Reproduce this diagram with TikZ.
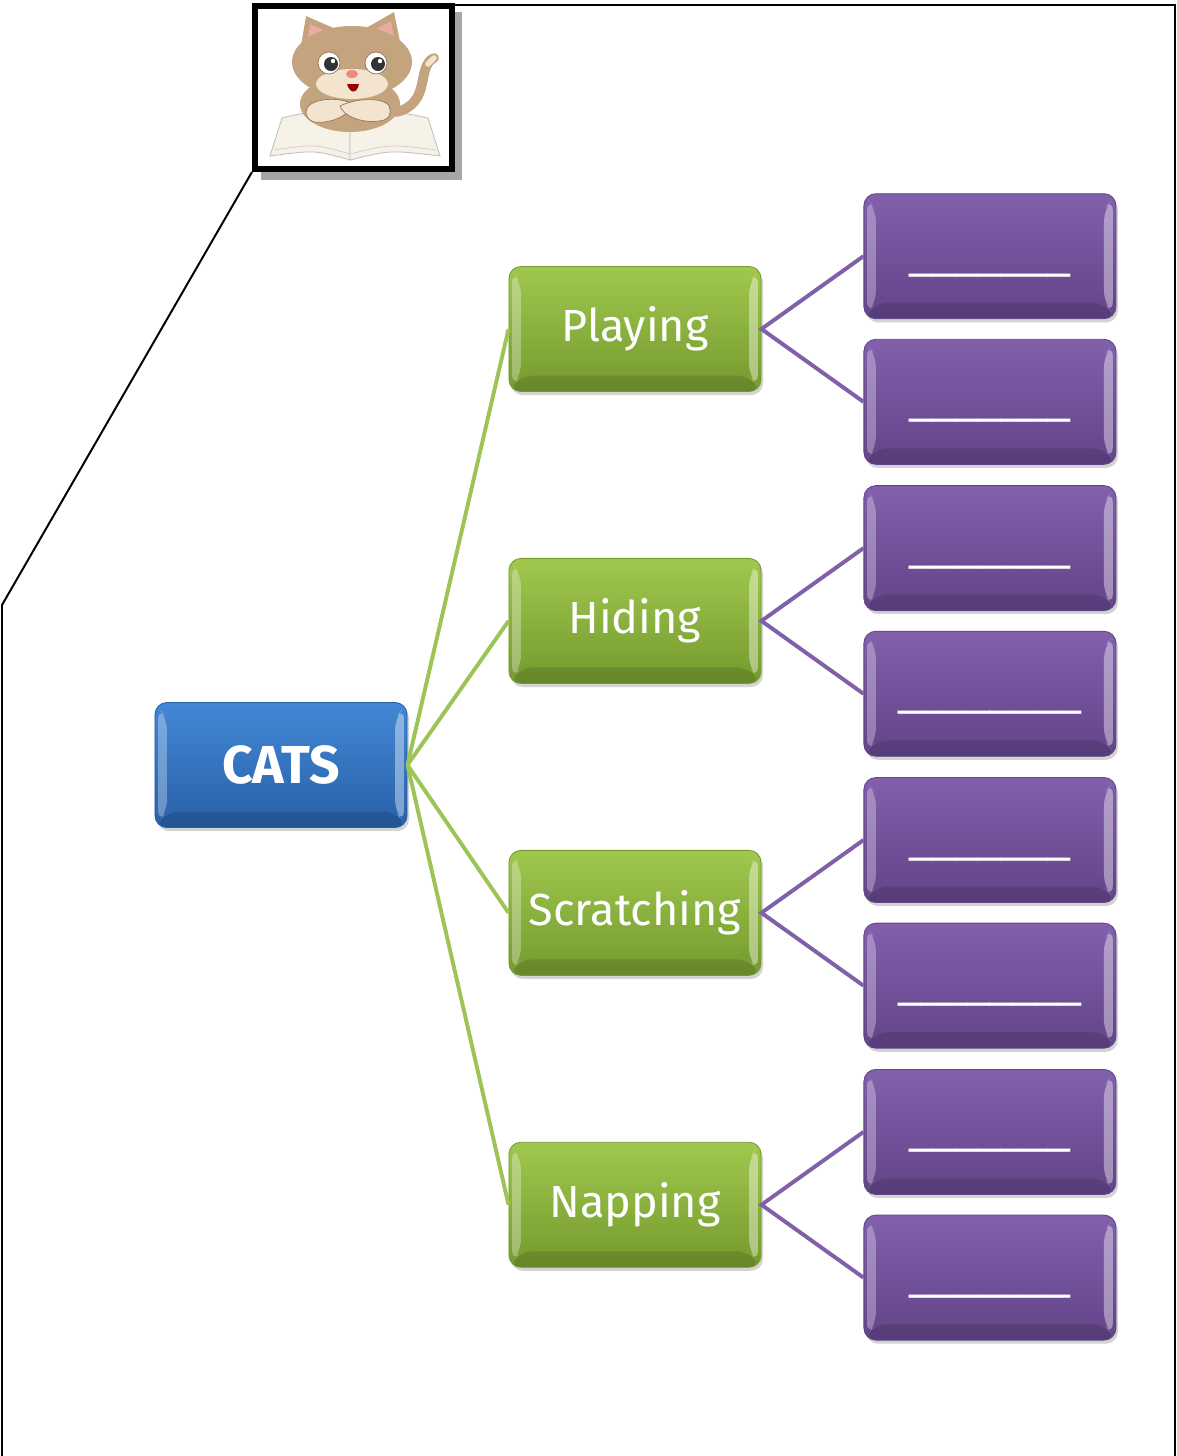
\documentclass[tikz,border=0pt]{standalone}
\usepackage{fontspec}
\setmainfont{Fira Sans}
\newfontfamily\blankfont{DejaVu Sans}
\usetikzlibrary{positioning,shadows,calc}

\definecolor{leafgreen}{RGB}{160,200,78}
\definecolor{leafdark}{RGB}{116,154,46}
\definecolor{leafline}{RGB}{156,196,86}
\definecolor{plum}{RGB}{130,96,172}
\definecolor{plumdark}{RGB}{98,68,136}
\definecolor{plumline}{RGB}{128,96,168}
\definecolor{skyblue}{RGB}{66,136,214}
\definecolor{skydark}{RGB}{40,96,168}
\definecolor{fur}{RGB}{196,164,126}
\definecolor{furdark}{RGB}{150,118,84}
\definecolor{furlight}{RGB}{242,228,206}
\definecolor{earpink}{RGB}{232,172,160}
\definecolor{page}{RGB}{246,242,232}

\begin{document}
\begin{tikzpicture}[x=0.025cm,y=-0.025cm,node distance={4.15cm and 2.55cm}]
      \tikzset{bevel/.style={path picture={
        \fill[white,opacity=.3] ([shift={(0.08cm,-0.12cm)}]path picture bounding box.north west)
          -- ([shift={(0.3cm,-0.4cm)}]path picture bounding box.north west)
          -- ([shift={(0.3cm,0.4cm)}]path picture bounding box.south west)
          -- ([shift={(0.08cm,0.12cm)}]path picture bounding box.south west) -- cycle;
        \fill[white,opacity=.4] ([shift={(-0.08cm,-0.12cm)}]path picture bounding box.north east)
          -- ([shift={(-0.3cm,-0.4cm)}]path picture bounding box.north east)
          -- ([shift={(-0.3cm,0.4cm)}]path picture bounding box.south east)
          -- ([shift={(-0.08cm,0.12cm)}]path picture bounding box.south east) -- cycle;
        \fill[black,opacity=.12] ([shift={(0.3cm,0.4cm)}]path picture bounding box.south west)
          -- ([shift={(-0.3cm,0.4cm)}]path picture bounding box.south east)
          -- (path picture bounding box.south east) -- (path picture bounding box.south west) -- cycle;
      }}}
      \tikzset{box/.style={shape=rectangle,rounded corners=0.3cm,minimum width=6.3cm,minimum height=3.125cm,
        inner sep=0pt,text=white,font=\fontsize{32}{38}\selectfont,line width=0.6pt,
        drop shadow={opacity=.35,shadow xshift=0.05cm,shadow yshift=-0.09cm},bevel}}
      \tikzset{bluebox/.style={box,top color=skyblue,bottom color=skydark,draw=skydark}}
      \tikzset{greenbox/.style={box,top color=leafgreen,bottom color=leafdark,draw=leafdark}}
      \tikzset{plumbox/.style={box,top color=plum,bottom color=plumdark,draw=plumdark,
        font=\blankfont\fontsize{32.5}{38}\selectfont,text height=0.5cm,text depth=0pt}}
      \tikzset{twig/.style={leafline,line width=2.8pt}}
      \tikzset{leaf/.style={plumline,line width=2.8pt}}

      \useasboundingbox (0,0) rectangle (1177,1456);

      % frame with the cat picture
      \fill [black!35] (261,12) rectangle (462,180);
      \node [draw,line width=4.3pt,fill=white,minimum width=4.925cm,minimum height=4.075cm] (catframe) at (353.5,87.5) {};
      \draw [line width=1.4pt] (catframe.south west) -- (2,605) -- (2,1456);
      \draw [line width=1.4pt] (catframe.north east |- 0,5) -- (1175,5) -- (1175,1456);

      % book
      \fill [page,draw=black!25,line width=0.6pt] (270,156) -- (282,118) .. controls (315,110) .. (350,124)
        -- (350,160) .. controls (315,150) .. (270,156) -- cycle;
      \fill [page,draw=black!25,line width=0.6pt] (440,156) -- (428,118) .. controls (390,110) .. (350,124)
        -- (350,160) .. controls (390,150) .. (440,156) -- cycle;
      \draw [black!20,line width=0.5pt] (274,150) .. controls (315,144) .. (350,154) .. controls (390,144) .. (436,150);
      % tail
      \draw [fur,line width=7pt,line cap=round] (396,112) .. controls (432,104) and (416,66) .. (434,58);
      \draw [furlight,line width=4pt,line cap=round] (428,64) -- (434,58);
      % body and crossed arms
      \fill [fur] (350,104) ellipse (50 and 28);
      \fill [furlight,draw=furdark,line width=0.5pt] (306,112) .. controls (306,98) and (340,96) .. (352,104)
        .. controls (350,116) and (330,124) .. (314,122) .. controls (308,120) and (306,116) .. (306,112);
      \fill [furlight,draw=furdark,line width=0.5pt] (390,110) .. controls (392,98) and (360,96) .. (340,106)
        .. controls (346,120) and (370,124) .. (384,120) .. controls (390,118) and (390,114) .. (390,110);
      % head and ears
      \fill [fur] (300,52) -- (306,16) -- (338,30) -- cycle;
      \fill [fur] (366,28) -- (394,12) -- (402,52) -- cycle;
      \fill [earpink] (307,44) -- (310,24) -- (330,33) -- cycle;
      \fill [earpink] (373,31) -- (391,21) -- (395,44) -- cycle;
      \fill [fur] (352,62) ellipse (60 and 36);
      \fill [furlight] (352,84) ellipse (36 and 15);
      % eyes
      \foreach \ex in {329,376} {
        \fill [white,draw=furdark,line width=0.5pt] (\ex,63) circle (11);
        \fill [black!80] (\ex+2,64) circle (7);
        \fill [white] (\ex+4,61) circle (2.2);
      }
      % nose and mouth
      \fill [earpink!80!red] (352,74) ellipse (6 and 4);
      \fill [red!60!black] (347,84) .. controls (350,94) and (357,94) .. (359,84) -- cycle;

      % the tree
      \node [bluebox] (cats) at (281,765) {\fontsize{38}{44}\selectfont\bfseries CATS};
      \node [greenbox] (playing) at (635,329) {Playing};
      \node [greenbox,below=of playing] (hiding) {Hiding};
      \node [greenbox,below=of hiding] (scratching) {Scratching};
      \node [greenbox,below=of scratching] (napping) {Napping};

      \node [plumbox,right=of playing,yshift=1.82cm] (play1) {\_\_\_\_\_\_\_};
      \node [plumbox,right=of playing,yshift=-1.82cm] (play2) {\_\_\_\_\_\_\_};
      \node [plumbox,right=of hiding,yshift=1.82cm] (hide1) {\_\_\_\_\_\_\_};
      \node [plumbox,right=of hiding,yshift=-1.82cm] (hide2) {\_\_\_\_\_\_\_\_};
      \node [plumbox,right=of scratching,yshift=1.82cm] (scratch1) {\_\_\_\_\_\_\_};
      \node [plumbox,right=of scratching,yshift=-1.82cm] (scratch2) {\_\_\_\_\_\_\_\_};
      \node [plumbox,right=of napping,yshift=1.82cm] (nap1) {\_\_\_\_\_\_\_};
      \node [plumbox,right=of napping,yshift=-1.82cm] (nap2) {\_\_\_\_\_\_\_};

      \draw [twig] (cats.east) -- (playing.west);
      \draw [twig] (cats.east) -- (hiding.west);
      \draw [twig] (cats.east) -- (scratching.west);
      \draw [twig] (cats.east) -- (napping.west);

      \draw [leaf] (play1.west) -- (playing.east) -- (play2.west);
      \draw [leaf] (hide1.west) -- (hiding.east) -- (hide2.west);
      \draw [leaf] (scratch1.west) -- (scratching.east) -- (scratch2.west);
      \draw [leaf] (nap1.west) -- (napping.east) -- (nap2.west);
\end{tikzpicture}
\end{document}
